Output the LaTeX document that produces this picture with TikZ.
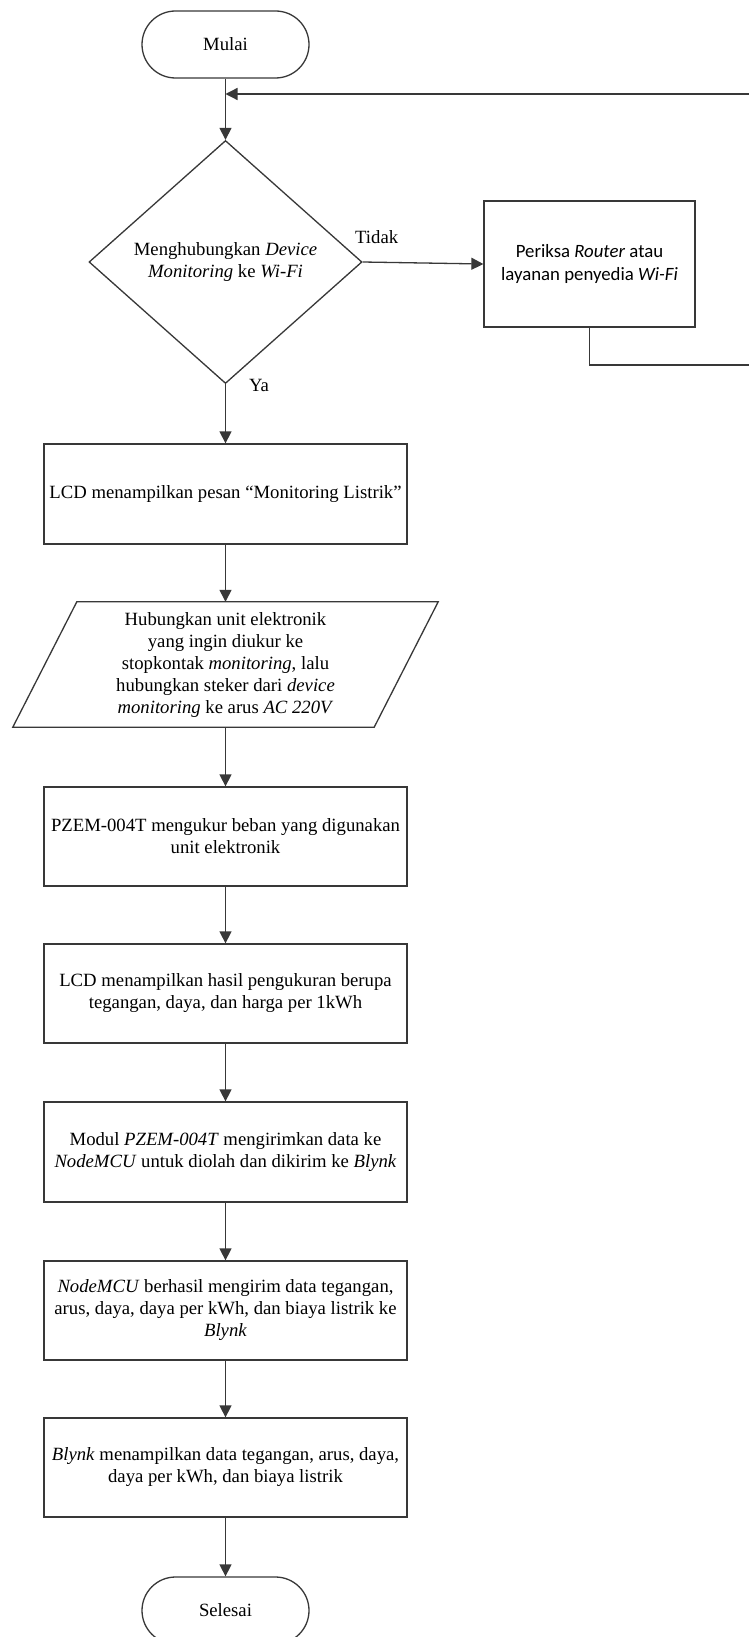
\documentclass[tikz,border=0pt]{standalone}
\usepackage{fontspec}
\setmainfont{Liberation Serif}
\newfontfamily\carl{Carlito}
\usetikzlibrary{arrows.meta,shapes.geometric}
\begin{document}
\begin{tikzpicture}[x=1pt,y=-1pt,
  ln/.style={draw=black!78, line width=1.3pt},
  arr/.style={ln, -{Triangle[length=12pt,width=12pt]}},
  txt/.style={font=\fontsize{18.7}{22}\selectfont, align=center},
  proc/.style={ln, txt, minimum width=363pt, minimum height=100pt, inner sep=0pt},
  term/.style={ln, txt, rounded corners=33.5pt, minimum width=167pt, minimum height=67pt, inner sep=0pt},
  dec/.style={ln, txt, diamond, minimum width=273pt, minimum height=243pt, inner sep=0pt},
  lab/.style={font=\fontsize{18.7}{22}\selectfont, inner sep=0pt}
]
\useasboundingbox (0,0) rectangle (748,1637);
\fill[white] (0,0) rectangle (748,1637);

\node[term] (mulai) at (225.5,44.5) {Mulai};
\node[dec] (d) at (225.5,262) {Menghubungkan \textit{Device}\\\textit{Monitoring} ke \textit{Wi-Fi}};
\node[ln, align=center, inner sep=0pt, minimum width=211pt, minimum height=126pt,
      font=\carl\fontsize{18.8}{23}\selectfont] (periksa) at (589.5,264)
      {Periksa \textit{Router} atau\\layanan penyedia \textit{Wi-Fi}};
\node[proc] (lcd1) at (225.5,494) {LCD menampilkan pesan “Monitoring Listrik”};
\node[txt, inner sep=0pt, minimum width=361pt, minimum height=125pt] (para) at (225.5,664.5)
  {Hubungkan unit elektronik\\yang ingin diukur ke\\stopkontak \textit{monitoring}, lalu\\hubungkan steker dari \textit{device}\\\textit{monitoring} ke arus \textit{AC 220V}};
\draw[ln] ([xshift=32pt]para.north west) -- ([xshift=32pt]para.north east)
  -- ([xshift=-32pt]para.south east) -- ([xshift=-32pt]para.south west) -- cycle;
\node[proc, minimum height=99pt] (pzem) at (225.5,836.5) {PZEM-004T mengukur beban yang digunakan\\unit elektronik};
\node[proc, minimum height=99pt] (lcd2) at (225.5,993.5) {LCD menampilkan hasil pengukuran berupa\\tegangan, daya, dan harga per 1kWh};
\node[proc] (modul) at (225.5,1152) {Modul \textit{PZEM-004T} mengirimkan data ke\\\textit{NodeMCU} untuk diolah dan dikirim ke \textit{Blynk}};
\node[proc, minimum height=99pt] (nodemcu) at (225.5,1310.5) {\textit{NodeMCU} berhasil mengirim data tegangan,\\arus, daya, daya per kWh, dan biaya listrik ke\\\textit{Blynk}};
\node[proc, minimum height=99pt] (blynk) at (225.5,1467.5) {\textit{Blynk} menampilkan data tegangan, arus, daya,\\daya per kWh, dan biaya listrik};
\node[term] (selesai) at (225.5,1610.5) {Selesai};

\node[lab, anchor=west] (tidak) at (355,237) {Tidak};
\node[lab] (ya) at (259,385) {Ya};

\coordinate (j) at (225.5,94);
\coordinate (c2) at (752,365);
\coordinate (c3) at (752,94);

\draw[arr] (mulai) -- (d);
\draw[arr] (d.east) -- (periksa.west);
\draw[arr] (periksa.south) |- (c2) -- (c3) -- (j);
\draw[arr] (d) -- (lcd1);
\draw[arr] (lcd1) -- (para.north);
\draw[arr] (para.south) -- (pzem);
\draw[arr] (pzem) -- (lcd2);
\draw[arr] (lcd2) -- (modul);
\draw[arr] (modul) -- (nodemcu);
\draw[arr] (nodemcu) -- (blynk);
\draw[arr] (blynk) -- (selesai);
\end{tikzpicture}
\end{document}
